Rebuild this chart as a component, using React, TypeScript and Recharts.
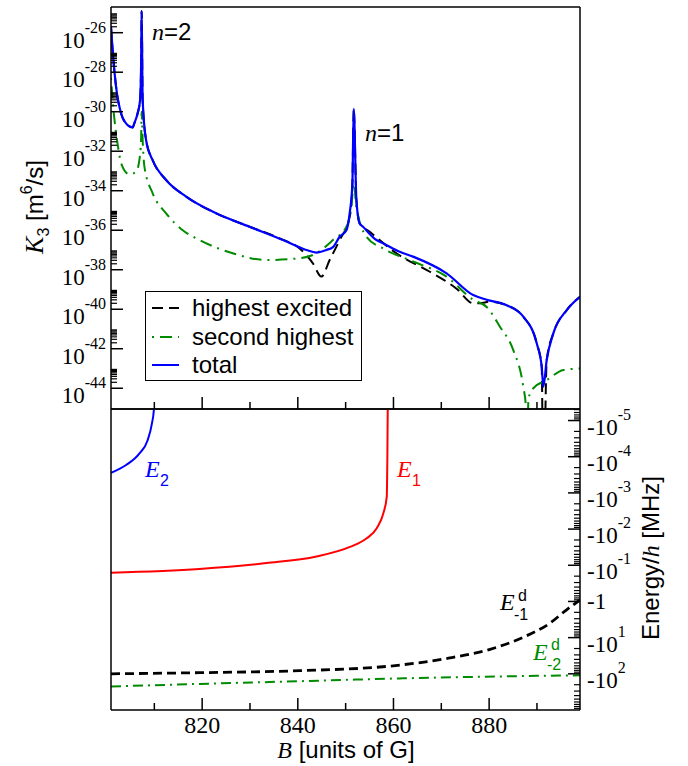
import React from 'react';
import { LineChart, Line, XAxis, YAxis, Legend } from 'recharts';

const SERIF = '"Liberation Serif", "Times New Roman", serif';
const SANS = '"Liberation Sans", Arial, Helvetica, sans-serif';

// magnetic field axis [G]
const B_MIN = 800.94;
const B_MAX = 899;
const bTicks = [810, 820, 830, 840, 850, 860, 870, 880, 890];
const bLabels = [820, 840, 860, 880];

// top panel: K3 [m^6/s]
const K_MIN = 8.9e-46;
const K_MAX = 2.0e-25;
const kMajorTicks = [1e-44, 1e-42, 1e-40, 1e-38, 1e-36, 1e-34, 1e-32, 1e-30, 1e-28, 1e-26];
const MINOR_STEPS = [2, 3, 4, 5, 6, 7, 8, 9];

const highB = [800.94, 801.28, 801.99, 803.04, 804.42, 805.47, 805.82, 806.51, 807.02, 807.23, 807.35, 807.56, 808.27, 809.65, 812.46, 816.65, 822.93, 829.91, 836.19, 840.38, 843.16, 844.92, 846.66, 848.75, 850.84, 851.41, 851.69, 852.25, 852.94, 855.04, 860.63, 867.6, 873.19, 876.67, 878.07, 880.17, 883.66, 887.14, 889.95, 891.0, 891.33, 892.04, 893.42, 896.23, 899.0];
const highK = [2.0e-26, 1.3e-27, 1.9e-29, 8.3e-31, 2.1e-31, 1.6e-31, 2.6e-31, 8.3e-31, 3.9e-30, 1.9e-28, 1.26e-25, 3.9e-30, 3.7e-32, 3.5e-33, 3.5e-34, 5.0e-35, 7.2e-36, 1.5e-36, 3.9e-37, 1.2e-37, 2.1e-38, 4.5e-39, 3.1e-38, 3.2e-37, 4.8e-36, 2.3e-34, 1.4e-30, 3.4e-35, 2.2e-36, 8.3e-37, 6.8e-38, 7.9e-39, 1.1e-39, 2.0e-40, 2.0e-40, 2.4e-40, 1.6e-40, 4.2e-41, 1.9e-42, 1.2e-43, 1e-50, 2.7e-43, 6.0e-42, 9.1e-41, 4.3e-40];

const secondB = [800.94, 801.5, 802.3, 803.2, 804.77, 806.18, 806.87, 807.23, 807.35, 807.56, 807.92, 809.65, 812.46, 815.94, 819.43, 826.41, 833.4, 840.38, 843.87, 847.35, 850.16, 851.2, 851.69, 852.25, 854.35, 857.82, 864.1, 871.1, 876.67, 879.48, 882.26, 885.05, 887.14, 887.7, 887.95, 888.2, 889.24, 892.04, 895.52, 899.0];
const secondK = [5.0e-29, 1.0e-30, 2.5e-32, 2.0e-33, 6.8e-34, 9.1e-34, 3.5e-33, 3.7e-32, 1.0e-30, 3.7e-32, 1.7e-33, 7.4e-35, 7.2e-36, 1.0e-36, 3.2e-37, 6.8e-38, 3.1e-38, 3.8e-38, 6.8e-38, 3.2e-37, 1.5e-36, 1.5e-35, 2.3e-34, 1.5e-35, 4.7e-37, 1.2e-37, 2.6e-38, 4.5e-39, 3.0e-40, 1.3e-40, 1.3e-41, 8.5e-43, 1.2e-44, 1.1e-45, 1e-50, 2.8e-45, 1.0e-44, 2.6e-44, 8.3e-44, 1.0e-43];

const totalB = [800.94, 801.28, 801.99, 803.04, 804.42, 805.47, 805.82, 806.51, 807.02, 807.23, 807.35, 807.56, 808.27, 809.65, 812.46, 816.65, 822.93, 829.91, 836.88, 841.78, 843.87, 845.97, 847.35, 848.75, 850.16, 850.84, 851.41, 851.69, 852.25, 852.94, 853.63, 856.44, 857.82, 861.32, 864.1, 871.1, 876.67, 879.48, 883.66, 887.14, 889.95, 891.0, 891.33, 892.04, 893.42, 896.23, 899.0];
const totalK = [2.0e-26, 1.3e-27, 1.9e-29, 8.3e-31, 2.1e-31, 1.6e-31, 2.6e-31, 8.3e-31, 3.9e-30, 1.9e-28, 1.26e-25, 3.9e-30, 3.7e-32, 3.5e-33, 3.5e-34, 5.0e-35, 7.2e-36, 1.5e-36, 3.2e-37, 1.0e-37, 7.4e-38, 1.0e-37, 1.4e-37, 4.7e-37, 1.0e-36, 7.2e-36, 2.3e-34, 1.4e-30, 3.4e-35, 2.2e-36, 1.5e-36, 3.2e-37, 2.2e-37, 8.1e-38, 4.6e-38, 6.6e-39, 5.2e-40, 3.0e-40, 1.6e-40, 4.2e-41, 1.9e-42, 1.2e-43, 1.2e-44, 2.7e-43, 6.0e-42, 9.1e-41, 4.3e-40];

// bottom panel: Energy/h [MHz] (negative, log of magnitude)
const E_MIN = 4.8e-6;
const E_MAX = 1000;
const eMajorTicks = [1e-5, 1e-4, 1e-3, 1e-2, 1e-1, 1, 10, 100];

const e2B = [800.94, 804.1, 806.9, 808.6, 809.5, 809.9, 810.1];
const e2E = [-2.8e-4, -1.7e-4, -8.1e-5, -3.5e-5, -1.2e-5, -5.1e-6, -1e-8];

const e1B = [800.94, 819.4, 833.4, 843.9, 850.9, 854.4, 856.5, 857.9, 858.6, 858.7, 858.8, 858.85];
const e1E = [-0.16, -0.126, -0.087, -0.057, -0.031, -0.018, -0.0095, -0.0036, -0.00126, -1.9e-4, -5.1e-6, -1e-8];

const ed1B = [800.94, 819.43, 840.38, 859.92, 871.5, 880.2, 887.1, 892.7, 896.2, 899.0];
const ed1E = [-100, -93, -82, -60, -37, -21, -9.8, -4.0, -1.7, -0.91];

const ed2B = [800.94, 819.43, 840.38, 861.32, 882.26, 899.0];
const ed2E = [-224, -190, -160, -134, -118, -110];

const zip = (bs: number[], vs: number[]) => bs.map((b, i) => ({ b, v: vs[i] }));

const kTicks = [...kMajorTicks, ...kMajorTicks.flatMap((t) => MINOR_STEPS.map((k) => k * t))];
const eTicks = [
  ...eMajorTicks,
  ...[1e-6, ...eMajorTicks].flatMap((t) => MINOR_STEPS.map((k) => k * t)).filter((t) => t > E_MIN && t < E_MAX),
];

const isDecade = (v: number) => {
  const lg = Math.log10(v);
  return Math.abs(lg - Math.round(lg)) < 1e-6;
};

const axisStyle = { stroke: '#000', strokeWidth: 1.5 };

// dir: 1 = ticks point down, -1 = ticks point up
const XTick = (props: any) => {
  const { x, y, payload, dir, labels } = props;
  const major = payload.value % 20 === 0;
  const len = major ? 12 : 7;
  return (
    <g>
      <line x1={x} x2={x} y1={y} y2={y + dir * len} stroke="#000" strokeWidth={1.5} />
      {labels && bLabels.includes(payload.value) && (
        <text x={x} y={y + 23} textAnchor="middle" fontFamily={SERIF} fontSize={24} fill="#000">
          {payload.value}
        </text>
      )}
    </g>
  );
};

const KTick = (props: any) => {
  const { x, y, payload } = props;
  if (!isDecade(payload.value)) {
    return <line x1={x} x2={x + 6} y1={y} y2={y} stroke="#000" strokeWidth={1.2} />;
  }
  const exp = Math.round(Math.log10(payload.value));
  return (
    <g>
      <line x1={x} x2={x + 12} y1={y} y2={y} stroke="#000" strokeWidth={1.5} />
      <text x={x - 5} y={y + 15} textAnchor="end" fontFamily={SERIF} fontSize={23} fill="#000">
        10<tspan dy={-15} fontSize={16}>{exp}</tspan>
      </text>
    </g>
  );
};

const ETick = (props: any) => {
  const { x, y, payload } = props;
  if (!isDecade(payload.value)) {
    return <line x1={x - 6} x2={x} y1={y} y2={y} stroke="#000" strokeWidth={1.2} />;
  }
  const exp = Math.round(Math.log10(payload.value));
  return (
    <g>
      <line x1={x - 12} x2={x} y1={y} y2={y} stroke="#000" strokeWidth={1.5} />
      {exp === 0 ? (
        <text x={x + 7} y={y + 8} fontFamily={SERIF} fontSize={23} fill="#000">-1</text>
      ) : (
        <text x={x + 7} y={y + 14} fontFamily={SERIF} fontSize={23} fill="#000">
          -10<tspan dy={-15} fontSize={16}>{exp}</tspan>
        </text>
      )}
    </g>
  );
};

const renderLegend = (props: any) => {
  const { payload } = props;
  return (
    <div style={{ width: 217, height: 90, boxSizing: 'border-box', border: '1.5px solid #000', background: '#fff', paddingTop: 2 }}>
      {payload.map((p: any) => (
        <div key={p.value} style={{ height: 28.5, display: 'flex', alignItems: 'center' }}>
          <svg width={46} height={10} style={{ flex: 'none' }}>
            <line x1={6} x2={33} y1={5} y2={5} stroke={p.color} strokeWidth={2} strokeDasharray={p.payload?.strokeDasharray} />
          </svg>
          <span style={{ fontFamily: SANS, fontSize: 24, color: '#000', lineHeight: '28px', whiteSpace: 'nowrap' }}>{p.value}</span>
        </div>
      ))}
    </div>
  );
};

// axes are 1px thick so Recharts still draws them; margins are reduced by 1 to compensate
const xProps = {
  type: 'number' as const,
  domain: [B_MIN, B_MAX],
  allowDataOverflow: true,
  ticks: bTicks,
  interval: 0 as const,
  height: 1,
  tickSize: 0,
  tickMargin: 0,
  tickLine: false,
  axisLine: axisStyle,
};

export default function App() {
  return (
    <div style={{ position: 'absolute', left: 0, top: 0, width: 688, height: 766, background: '#fff' }}>
      <div style={{ position: 'absolute', left: 0, top: 0 }}>
        <LineChart width={688} height={420} margin={{ top: 6, right: 107, bottom: 10, left: 110 }}>
          <XAxis dataKey="b" {...xProps} tick={(p: any) => <XTick {...p} dir={-1} />} />
          <XAxis xAxisId="top" orientation="top" {...xProps} tick={(p: any) => <XTick {...p} dir={1} />} />
          <YAxis
            type="number"
            scale="log"
            domain={[K_MIN, K_MAX]}
            allowDataOverflow
            ticks={kTicks}
            interval={0}
            width={1}
            tickSize={0}
            tickMargin={0}
            tickLine={false}
            axisLine={axisStyle}
            tick={(p: any) => <KTick {...p} />}
          />
          <YAxis yAxisId="right" orientation="right" type="number" domain={[0, 1]} width={1} tick={false} tickLine={false} axisLine={axisStyle} />
          <Legend
            layout="vertical"
            align="center"
            verticalAlign="middle"
            content={renderLegend}
            wrapperStyle={{ left: 145, top: 291, width: 217, height: 90 }}
          />
          <Line data={zip(highB, highK)} dataKey="v" name="highest excited" type="monotone" stroke="#000" strokeWidth={2} strokeDasharray="11 6" dot={false} isAnimationActive={false} />
          <Line data={zip(secondB, secondK)} dataKey="v" name="second highest" type="monotone" stroke="#008b00" strokeWidth={2} strokeDasharray="2 6 12 6" dot={false} isAnimationActive={false} />
          <Line data={zip(totalB, totalK)} dataKey="v" name="total" type="monotone" stroke="#0000ff" strokeWidth={2.2} dot={false} isAnimationActive={false} />
        </LineChart>
      </div>

      <div style={{ position: 'absolute', left: 0, top: 400 }}>
        <LineChart width={688} height={366} margin={{ top: 8, right: 107, bottom: 55, left: 110 }}>
          <XAxis dataKey="b" {...xProps} tick={(p: any) => <XTick {...p} dir={-1} labels />} />
          <XAxis xAxisId="top" orientation="top" {...xProps} tick={(p: any) => <XTick {...p} dir={1} />} />
          <YAxis
            orientation="right"
            type="number"
            scale="log"
            reversed
            domain={[E_MIN, E_MAX]}
            allowDataOverflow
            ticks={eTicks}
            interval={0}
            width={1}
            tickSize={0}
            tickMargin={0}
            tickLine={false}
            axisLine={axisStyle}
            tick={(p: any) => <ETick {...p} />}
          />
          <YAxis yAxisId="left" orientation="left" type="number" domain={[0, 1]} width={1} tick={false} tickLine={false} axisLine={axisStyle} />
          <Line data={zip(e2B, e2E)} dataKey={(d: any) => -d.v} name="E2" type="monotone" stroke="#0000ff" strokeWidth={2} dot={false} isAnimationActive={false} />
          <Line data={zip(e1B, e1E)} dataKey={(d: any) => -d.v} name="E1" type="monotone" stroke="#ff0000" strokeWidth={2} dot={false} isAnimationActive={false} />
          <Line data={zip(ed1B, ed1E)} dataKey={(d: any) => -d.v} name="Ed-1" type="monotone" stroke="#000" strokeWidth={2.8} strokeDasharray="9 5" dot={false} isAnimationActive={false} />
          <Line data={zip(ed2B, ed2E)} dataKey={(d: any) => -d.v} name="Ed-2" type="monotone" stroke="#008b00" strokeWidth={2} strokeDasharray="10 5 2 5" dot={false} isAnimationActive={false} />
        </LineChart>
      </div>

      <svg width={688} height={766} style={{ position: 'absolute', left: 0, top: 0, pointerEvents: 'none' }}>
        <text x={152} y={40} fontSize={24} fill="#000">
          <tspan fontFamily={SERIF} fontStyle="italic">n</tspan>
          <tspan fontFamily={SANS}>=2</tspan>
        </text>
        <text x={365} y={141} fontSize={24} fill="#000">
          <tspan fontFamily={SERIF} fontStyle="italic">n</tspan>
          <tspan fontFamily={SANS}>=1</tspan>
        </text>
        <text transform="translate(43,207) rotate(-90)" textAnchor="middle" fontSize={24} fill="#000" fontFamily={SANS}>
          <tspan fontFamily={SERIF} fontStyle="italic" fontSize={26}>K</tspan>
          <tspan fontSize={16} dy={6}>3</tspan>
          <tspan dy={-6}> [m</tspan>
          <tspan fontSize={16} dy={-11}>6</tspan>
          <tspan dy={11}>/s]</tspan>
        </text>
        <text transform="translate(659,558) rotate(-90)" textAnchor="middle" fontSize={24} fill="#000" fontFamily={SANS}>
          Energy/<tspan fontFamily={SERIF} fontStyle="italic">h</tspan> [MHz]
        </text>
        <text x={346} y={758} textAnchor="middle" fontSize={24} fill="#000" fontFamily={SANS}>
          <tspan fontFamily={SERIF} fontStyle="italic">B</tspan> [units of G]
        </text>

        <text x={145} y={477} fontSize={24} fill="#0000ff" fontFamily={SERIF} fontStyle="italic">E</text>
        <text x={160} y={486} fontSize={16} fill="#0000ff" fontFamily={SANS}>2</text>

        <text x={397} y={477} fontSize={24} fill="#ff0000" fontFamily={SERIF} fontStyle="italic">E</text>
        <text x={412} y={486} fontSize={16} fill="#ff0000" fontFamily={SANS}>1</text>

        <text x={500} y={610} fontSize={24} fill="#000" fontFamily={SERIF} fontStyle="italic">E</text>
        <text x={518} y={601} fontSize={16} fill="#000" fontFamily={SANS}>d</text>
        <text x={514} y={620} fontSize={16} fill="#000" fontFamily={SANS}>-1</text>

        <text x={533} y={660} fontSize={24} fill="#008b00" fontFamily={SERIF} fontStyle="italic">E</text>
        <text x={551} y={650} fontSize={16} fill="#008b00" fontFamily={SANS}>d</text>
        <text x={547} y={670} fontSize={16} fill="#008b00" fontFamily={SANS}>-2</text>
      </svg>
    </div>
  );
}
